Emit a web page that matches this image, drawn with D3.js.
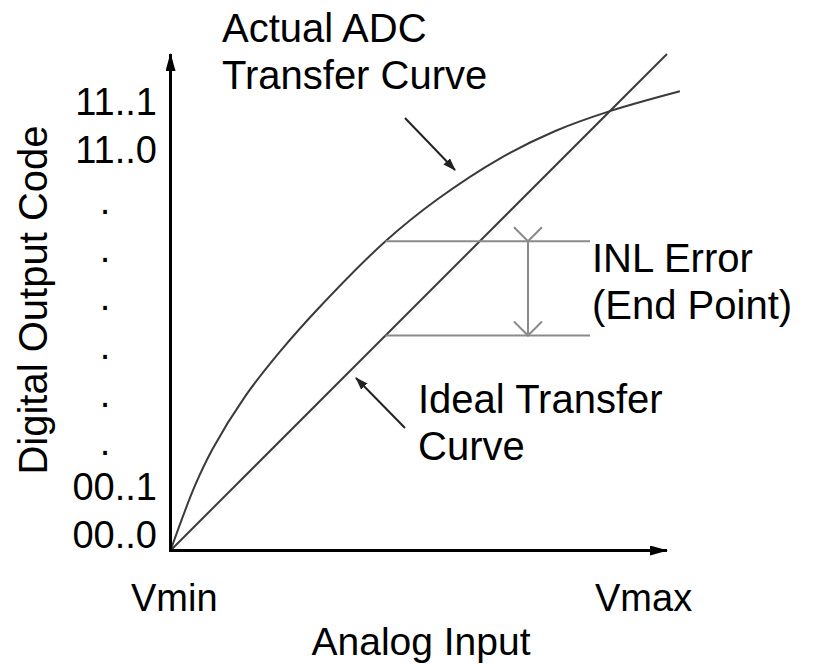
<!DOCTYPE html>
<html>
<head>
<meta charset="utf-8">
<script src="https://cdn.jsdelivr.net/npm/d3@7"></script>
<style>
  body { margin: 0; background: #fff; }
  svg { display: block; font-family: "Liberation Sans", Arial, sans-serif; }
</style>
</head>
<body>
<div id="chart"></div>
<script>
// normalised analog input (0 = Vmin, 1 = Vmax) and output code
var idealX = [0, 1];
var idealY = [0, 1];
var actualX = [0, 0.049, 0.085, 0.15, 0.22, 0.3, 0.433, 0.537, 0.664, 0.775, 0.885, 1.026];
var actualY = [0, 0.13, 0.205, 0.31, 0.40, 0.49, 0.623, 0.707, 0.79, 0.845, 0.885, 0.925];

// INL error markers (end point method)
var inlStart = 0.433, inlEnd = 0.845, inlArrowX = 0.72;
var inlTop = 0.623, inlBottom = 0.433;

var codeLabels = ["00..0", "00..1", ".", ".", ".", ".", ".", ".", "11..0", "11..1"];
var xTickLabels = ["Vmin", "Vmax"];

var width = 815, height = 664;

var svg = d3.select("#chart")
  .append("svg")
    .attr("width", width)
    .attr("height", height);

var x = d3.scaleLinear().domain([0, 1]).range([170.5, 667]);
var y = d3.scaleLinear().domain([0, 1]).range([550.5, 54]);
var yCode = d3.scaleLinear().domain([0, codeLabels.length - 1]).range([548, 115]);

// arrow heads
var defs = svg.append("defs");
defs.append("marker")
    .attr("id", "axisHead")
    .attr("viewBox", "0 0 18 10")
    .attr("refX", 17).attr("refY", 5)
    .attr("markerWidth", 18).attr("markerHeight", 10)
    .attr("markerUnits", "userSpaceOnUse")
    .attr("orient", "auto")
  .append("path")
    .attr("d", "M0,0L18,5L0,10Z")
    .attr("fill", "#000");
defs.append("marker")
    .attr("id", "labelHead")
    .attr("viewBox", "0 0 13 9")
    .attr("refX", 12).attr("refY", 4.5)
    .attr("markerWidth", 13).attr("markerHeight", 9)
    .attr("markerUnits", "userSpaceOnUse")
    .attr("orient", "auto")
  .append("path")
    .attr("d", "M0,0L13,4.5L0,9Z")
    .attr("fill", "#222");
defs.append("marker")
    .attr("id", "openHead")
    .attr("viewBox", "0 0 16 30")
    .attr("refX", 15).attr("refY", 15)
    .attr("markerWidth", 16).attr("markerHeight", 30)
    .attr("markerUnits", "userSpaceOnUse")
    .attr("orient", "auto")
  .append("path")
    .attr("d", "M1,1L15,15L1,29")
    .attr("fill", "none")
    .attr("stroke", "#8a8a8a")
    .attr("stroke-width", 2);

// curves
var line = d3.line()
  .x(function(d) { return x(d[0]); })
  .y(function(d) { return y(d[1]); })
  .curve(d3.curveCatmullRom.alpha(0.5));

svg.append("path")
    .datum(d3.zip(idealX, idealY))
    .attr("d", line)
    .attr("fill", "none")
    .attr("stroke", "#3a3a3a")
    .attr("stroke-width", 2);

svg.append("path")
    .datum(d3.zip(actualX, actualY))
    .attr("d", line)
    .attr("fill", "none")
    .attr("stroke", "#3a3a3a")
    .attr("stroke-width", 2);

// INL error lines
svg.selectAll(".inl")
  .data([inlTop, inlBottom])
  .enter()
  .append("line")
    .attr("x1", x(inlStart)).attr("x2", x(inlEnd))
    .attr("y1", function(d) { return y(d); })
    .attr("y2", function(d) { return y(d); })
    .attr("stroke", "#8a8a8a")
    .attr("stroke-width", 2);

svg.append("line")
    .attr("x1", x(inlArrowX)).attr("x2", x(inlArrowX))
    .attr("y1", y(inlTop)).attr("y2", y(inlBottom))
    .attr("stroke", "#8a8a8a")
    .attr("stroke-width", 2)
    .attr("marker-start", "url(#openHead)")
    .attr("marker-end", "url(#openHead)");

// axes with arrows
svg.append("line")
    .attr("x1", x(0)).attr("y1", y(0))
    .attr("x2", x(0)).attr("y2", y(1))
    .attr("stroke", "#000").attr("stroke-width", 3)
    .attr("marker-end", "url(#axisHead)");
svg.append("line")
    .attr("x1", x(0) - 1.5).attr("y1", y(0))
    .attr("x2", x(1)).attr("y2", y(0))
    .attr("stroke", "#000").attr("stroke-width", 3)
    .attr("marker-end", "url(#axisHead)");

// y tick labels
svg.selectAll(".code")
  .data(codeLabels)
  .enter()
  .append("text")
    .attr("x", function(d) { return d == "." ? 105 : 157; })
    .attr("y", function(d, i) { return yCode(i) + (d == "." ? 3 : 0); })
    .attr("text-anchor", function(d) { return d == "." ? "middle" : "end"; })
    .style("font-size", "38px")
    .text(function(d) { return d; });

// x tick labels
svg.selectAll(".vlab")
  .data(xTickLabels)
  .enter()
  .append("text")
    .attr("x", function(d, i) { return i == 0 ? 131 : 595; })
    .attr("y", 611)
    .style("font-size", "38px")
    .text(function(d) { return d; });

// axis titles
svg.append("text")
    .attr("x", 421).attr("y", 655)
    .attr("text-anchor", "middle")
    .style("font-size", "39px")
    .text("Analog Input");
svg.append("text")
    .attr("transform", "translate(47,300)rotate(-90)")
    .attr("text-anchor", "middle")
    .style("font-size", "40px")
    .text("Digital Output Code");

// annotations
function block(lines, x0, y0) {
  svg.selectAll(null)
    .data(lines)
    .enter()
    .append("text")
      .attr("x", x0)
      .attr("y", function(d, i) { return y0 + i * 47; })
      .style("font-size", "40px")
      .text(function(d) { return d; });
}
block(["Actual ADC", "Transfer Curve"], 222, 42);
block(["INL Error", "(End Point)"], 592, 272);
block(["Ideal Transfer", "Curve"], 418, 413);

svg.append("line")
    .attr("x1", 405).attr("y1", 118)
    .attr("x2", 455).attr("y2", 170)
    .attr("stroke", "#222").attr("stroke-width", 2)
    .attr("marker-end", "url(#labelHead)");
svg.append("line")
    .attr("x1", 405).attr("y1", 428)
    .attr("x2", 356).attr("y2", 378)
    .attr("stroke", "#222").attr("stroke-width", 2)
    .attr("marker-end", "url(#labelHead)");
</script>
</body>
</html>
